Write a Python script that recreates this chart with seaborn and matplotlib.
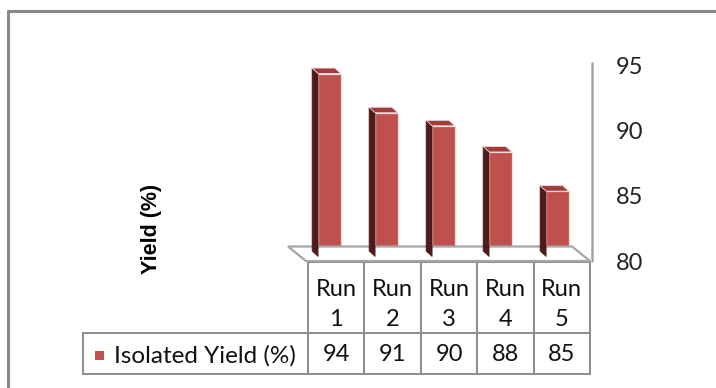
import matplotlib
matplotlib.use("Agg")
import matplotlib.pyplot as plt
import numpy as np
import pandas as pd
import seaborn as sns
from matplotlib.patches import Polygon, Rectangle
from matplotlib.lines import Line2D
from matplotlib.transforms import ScaledTranslation, IdentityTransform
from matplotlib.table import Table

# ---- data ----
runs = ["Run 1", "Run 2", "Run 3", "Run 4", "Run 5"]
run_labels = ["Run\n1", "Run\n2", "Run\n3", "Run\n4", "Run\n5"]
yields = [94, 91, 90, 88, 85]
series_name = "Isolated Yield (%)"
y_ticks = [80, 85, 90, 95]
y_title = "Yield (%)"

# ---- style ----
sns.set_theme(style="white")
plt.rcParams["font.family"] = ["Lato", "DejaVu Sans"]

FRONT = "#C0504D"
SIDE = "#4E1B1A"
TOP = "#9E3E3C"
EDGE = "#F3DCDB"
GRID_GRAY = "#A6A6A6"
TABLE_GRAY = "#8C8C8C"
FS = 17

W, H = 716, 388
fig = plt.figure(figsize=(W / 100, H / 100), dpi=100)
fig.patch.set_facecolor("white")


def fx(px):
    return px / W


def fy(py):
    return 1 - py / H


# outer chart border (left and top visible)
fig.add_artist(Line2D([fx(8), fx(8)], [fy(11), fy(390)], color="#888888", lw=2.2))
fig.add_artist(Line2D([fx(8), fx(720)], [fy(11), fy(11)], color="#888888", lw=2.2))

# ---- main axes (front plane of bars) ----
ax_l, ax_r, ax_b, ax_t = 301, 586, 256.5, 60.5
ax = fig.add_axes([fx(ax_l), fy(ax_b), (ax_r - ax_l) / W, (ax_b - ax_t) / H])
df = pd.DataFrame({"run": runs, "yield": yields})
sns.barplot(data=df, x="run", y="yield", color=FRONT, saturation=1, width=0.40,
            edgecolor=EDGE, linewidth=0.9, ax=ax, zorder=3)
ax.set_xlim(-0.5, 4.5)
ax.set_ylim(y_ticks[0], y_ticks[-1])
ax.set_facecolor("none")
for s in ax.spines.values():
    s.set_visible(False)
ax.set_xticks([])
ax.set_xlabel("")
ax.set_ylabel("")
ax.yaxis.tick_right()
ax.set_yticks(y_ticks)
ax.set_yticklabels([str(t) for t in y_ticks])
ax.tick_params(axis="y", length=0, pad=21.5, labelsize=FS, labelcolor="#222222")
shift = ScaledTranslation(0, -4.5 / 100, fig.dpi_scale_trans)
for lab in ax.get_yticklabels():
    lab.set_transform(lab.get_transform() + shift)

fig.canvas.draw()

# ---- pseudo 3D: floor, back wall line, bar sides and tops ----
DX, DY = -6.0, 5.5  # depth offset in pixels (display coords, y up)
ident = IdentityTransform()

floor = Polygon([(306, H - 261), (590, H - 261), (572, H - 246.5), (288, H - 246.5)],
                closed=True, facecolor="white", edgecolor=GRID_GRAY, lw=1.6,
                transform=ident, zorder=0.5)
fig.add_artist(floor)
fig.add_artist(Line2D([592, 592], [H - 63, H - 261], color=GRID_GRAY, lw=1.8,
                      transform=ident, zorder=0.6))

for bar in ax.patches:
    x0 = bar.get_x()
    w = bar.get_width()
    h = bar.get_height()
    bl = ax.transData.transform((x0, y_ticks[0]))
    tl = ax.transData.transform((x0, h))
    tr = ax.transData.transform((x0 + w, h))
    side = Polygon([bl, tl, (tl[0] + DX, tl[1] + DY), (bl[0] + DX, bl[1] + DY)],
                   closed=True, facecolor=SIDE, edgecolor=SIDE, lw=0.5,
                   transform=ident, zorder=1.5)
    top = Polygon([tl, tr, (tr[0] + DX, tr[1] + DY), (tl[0] + DX, tl[1] + DY)],
                  closed=True, facecolor=TOP, edgecolor=EDGE, lw=0.6,
                  transform=ident, zorder=1.6)
    fig.add_artist(side)
    fig.add_artist(top)

# ---- y-axis title ----
fig.text(fx(152), fy(229), y_title, rotation=90, ha="center", va="center",
         fontsize=15.5, fontweight="bold", family=["Liberation Sans", "DejaVu Sans"],
         color="#000000")

# ---- data table ----
t_l, t_r, t_top, t_mid, t_bot = 83, 590, 262, 333, 374
leg_right = 308
tax = fig.add_axes([fx(t_l), fy(t_bot), (t_r - t_l) / W, (t_bot - t_top) / H])
tax.set_axis_off()
tab = Table(tax, bbox=[0, 0, 1, 1])
tab.auto_set_font_size(False)
tot_w = t_r - t_l
tot_h = t_bot - t_top
col_w = (t_r - leg_right) / len(runs) / tot_w
leg_w = (leg_right - t_l) / tot_w
h_head = (t_mid - t_top) / tot_h
h_data = (t_bot - t_mid) / tot_h
head_shift = ScaledTranslation(0, -7.0 / 100, fig.dpi_scale_trans)
data_shift = ScaledTranslation(0, -1.0 / 100, fig.dpi_scale_trans)
for j, lab in enumerate(run_labels):
    c = tab.add_cell(0, j + 1, width=col_w, height=h_head, text=lab, loc="center")
    c.set_edgecolor(TABLE_GRAY)
    c.set_linewidth(1.4)
    t = c.get_text()
    t.set_fontsize(FS)
    t.set_linespacing(1.55)
    t.set_color("#111111")
    t.set_transform(head_shift)
c = tab.add_cell(1, 0, width=leg_w, height=h_data, text="", loc="left")
c.set_edgecolor(TABLE_GRAY)
c.set_linewidth(1.4)
for j, v in enumerate(yields):
    c = tab.add_cell(1, j + 1, width=col_w, height=h_data, text=str(v), loc="center")
    c.set_edgecolor(TABLE_GRAY)
    c.set_linewidth(1.4)
    t = c.get_text()
    t.set_fontsize(FS)
    t.set_color("#111111")
    t.set_transform(data_shift)
tax.add_table(tab)

# legend key + series name in the table's first cell
fig.add_artist(Rectangle((fx(95), fy(359.5)), 8.5 / W, 9 / H, facecolor=FRONT,
                         edgecolor="none", transform=fig.transFigure))
fig.text(fx(114), fy(355.5), series_name, ha="left", va="center", fontsize=17.5,
         color="#111111")

fig.savefig("out.png", dpi=100, facecolor="white")
